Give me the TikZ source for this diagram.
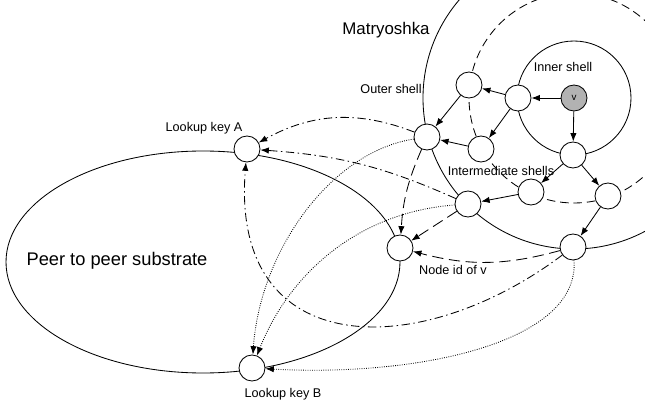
\documentclass[tikz,border=0pt]{standalone}
\usepackage{fontspec}
\setmainfont{Liberation Sans}
\usetikzlibrary{arrows.meta}

\tikzset{
  peer/.style={circle,draw,fill=white,minimum size=0.65cm,inner sep=0pt},
  lbl/.style={font=\fontsize{9}{10}\selectfont},
  arr/.style={-{Latex[length=6pt,width=4.5pt]}},
  longdash/.style={dash pattern=on 8pt off 4pt},
  dashdot/.style={dash pattern=on 6pt off 2.5pt on 1pt off 2.5pt},
}

\begin{document}
\begin{tikzpicture}[x=0.025cm,y=0.025cm,line width=0.6pt]
    \useasboundingbox (0,0) rectangle (645,402);
    \clip (0,0) rectangle (645,402);

    % Peer to peer substrate
    \draw (203,140) ellipse [x radius=197,y radius=111];
    \node[font=\fontsize{13}{15}\selectfont] (p2p) at (117,141) {Peer to peer substrate};

    % Matryoshka shells
    \draw (574,304) circle (151);
    \draw[dash pattern=on 6pt off 3.5pt] (574,304) circle (105);
    \draw (574,304) circle (57);
    \node[font=\fontsize{12}{14}\selectfont] (title) at (386,372) {Matryoshka};

    % Nodes
    \node[peer,fill=black!30] (v) at (574,304) {\fontsize{7}{8}\selectfont v};
    \node[peer] (s1) at (518,304) {};
    \node[peer] (s2) at (469,317) {};
    \node[peer] (s3) at (481,253) {};
    \node[peer] (outer) at (427,265) {};
    \node[peer] (s4) at (573,247) {};
    \node[peer] (s5) at (531,210) {};
    \node[peer] (s6) at (608,206) {};
    \node[peer] (s7) at (468,198) {};
    \node[peer] (s8) at (573,155) {};
    \node[peer] (nodeid) at (400,154) {};
    \node[peer] (keyA) at (247,253) {};
    \node[peer] (keyB) at (252,34) {};

    % Labels
    \node[lbl] (outerlbl) at (391,313) {Outer shell};
    \node[lbl] (innerlbl) at (563,335) {Inner shell};
    \node[lbl] (midlbl) at (501,231) {Intermediate shells};
    \node[lbl] (keyAlbl) at (204,274) {Lookup key A};
    \node[lbl] (keyBlbl) at (283,8) {Lookup key B};
    \node[lbl] (idlbl) at (453,132) {Node id of v};

    % Routing inside the shells
    \draw[arr] (v) -- (s1);
    \draw[arr] (v) -- (s4);
    \draw[arr] (s1) -- (s2);
    \draw[arr] (s1) -- (s3);
    \draw[arr] (s2) -- (outer);
    \draw[arr] (s3) -- (outer);
    \draw[arr] (s4) -- (s5);
    \draw[arr] (s4) -- (s6);
    \draw[arr] (s5) -- (s7);
    \draw[arr] (s6) -- (s8);

    % To the node id
    \draw[arr,longdash] (outer) to[bend right=10] (nodeid);
    \draw[arr,longdash] (s7) -- (nodeid);
    \draw[arr,longdash] (s8) to[bend left=15] (nodeid);

    % To lookup key A
    \draw[arr,dashdot] (outer) to[bend right=25] (keyA);
    \draw[arr,dashdot] (s7) to[bend right=10] (keyA);
    \draw[arr,dashdot] (s8) .. controls (420,40) and (230,40) .. (keyA);

    % To lookup key B
    \draw[arr,densely dotted] (outer) .. controls (330,250) and (260,150) .. (keyB);
    \draw[arr,densely dotted] (s7) .. controls (360,190) and (290,130) .. (keyB);
    \draw[arr,densely dotted] (s8) .. controls (580,60) and (420,25) .. (keyB);
\end{tikzpicture}
\end{document}
